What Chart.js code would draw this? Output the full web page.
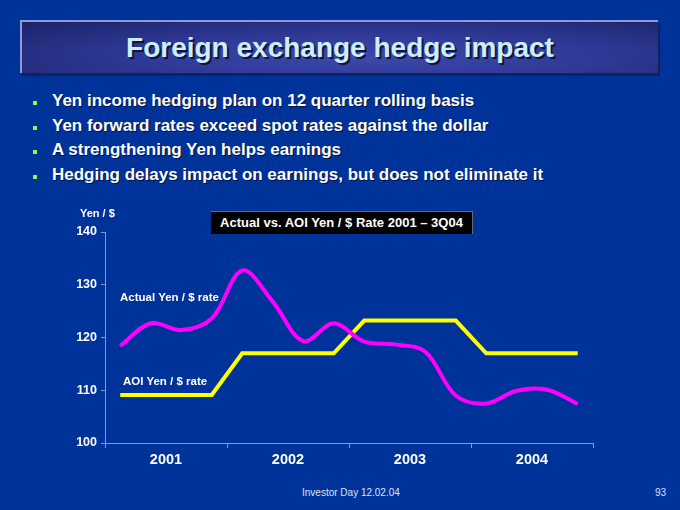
<!DOCTYPE html>
<html>
<head>
<meta charset="utf-8">
<script src="https://cdn.jsdelivr.net/npm/chart.js@4"></script>
<style>
  html, body { margin: 0; padding: 0; }
  body { width: 680px; height: 510px; background: #003399; position: relative; overflow: hidden;
         font-family: "Liberation Sans", Arial, sans-serif; color: #fff; }
  .titlebar { position: absolute; left: 20px; top: 20px; width: 638px; height: 53px; box-sizing: border-box;
              background: radial-gradient(ellipse at 55% 70%, #3c48aa 0%, #2f3a98 45%, #1c2368 100%);
              border-top: 2px solid #8e9ad8; border-left: 2px solid #8e9ad8;
              box-shadow: 2px 3px 0 #14205e; }
  .titlebar h1 { margin: 0; font-size: 28px; font-weight: bold; color: #cdeeff; text-align: center;
                 line-height: 52px; text-shadow: 2px 2px 0 #10143a; }
  ul { position: absolute; left: 0; top: 89px; margin: 0; padding: 0; list-style: none; }
  li { position: relative; padding-left: 52px; height: 24.7px; line-height: 24px; font-size: 17px;
       font-weight: bold; text-shadow: 1px 1px 0 #001244; white-space: nowrap; }
  li::before { content: ""; position: absolute; left: 33px; top: 12px; width: 4px; height: 4px; background: #9cf24a; }
  #chartBox { position: absolute; left: 0; top: 195px; width: 680px; height: 285px; }
  .lbl { position: absolute; font-weight: bold; white-space: nowrap; }
  .ctitle { position: absolute; left: 211px; top: 211px; width: 262px; height: 23px; box-sizing: border-box;
            background: #000; border-top: 1px solid #6a6a6a; border-right: 1px solid #6a6a6a;
            font-size: 13px; font-weight: bold; text-align: center; line-height: 22px; }
  .foot { position: absolute; top: 487px; font-family: "Liberation Sans", Arial, sans-serif;
          font-size: 10px; color: #dde3f5; }
</style>
</head>
<body>
<div class="titlebar"><h1>Foreign exchange hedge impact</h1></div>
<ul>
  <li>Yen income hedging plan on 12 quarter rolling basis</li>
  <li>Yen forward rates exceed spot rates against the dollar</li>
  <li>A strengthening Yen helps earnings</li>
  <li>Hedging delays impact on earnings, but does not eliminate it</li>
</ul>

<div id="chartBox"><canvas id="chart"></canvas></div>
<div class="lbl" style="left:80px; top:207px; font-size:11px;">Yen / $</div>
<div class="ctitle">Actual vs. AOI Yen / $ Rate 2001 – 3Q04</div>
<div class="lbl" style="left:120px; top:291px; font-size:11.5px;">Actual Yen / $ rate</div>
<div class="lbl" style="left:123px; top:375px; font-size:11.5px;">AOI Yen / $ rate</div>

<div class="foot" style="left:302px;">Investor Day 12.02.04</div>
<div class="foot" style="left:655px;">93</div>

<script>
// Данные графика
var years = ['2001', '2002', '2003', '2004'];
var quarters = ['1Q01', '2Q01', '3Q01', '4Q01', '1Q02', '2Q02', '3Q02', '4Q02',
                '1Q03', '2Q03', '3Q03', '4Q03', '1Q04', '2Q04', '3Q04', '4Q04'];
var actualRate = [118.4, 122.7, 121.4, 123.6, 132.7, 126.8, 119.3, 122.7,
                  119.2, 118.7, 117.3, 109.0, 107.5, 109.9, 110.1, 107.4];
var aoiRate = [109.1, 109.1, 109.1, 109.1, 117.0, 117.0, 117.0, 117.0,
               123.2, 123.2, 123.2, 123.2, 117.0, 117.0, 117.0, 117.0];
var yTicks = [100, 110, 120, 130, 140];

var axisColor = '#8796c8';

function points(values) {
    // каждая точка в середине своего квартала
    return values.map(function (v, i) { return { x: i + 0.5, y: v }; });
}

var ctx = document.getElementById('chart').getContext('2d');
var chart = new Chart(ctx, {
    type: 'line',
    data: {
        datasets: [{
            label: 'Actual Yen / $ rate',
            data: points(actualRate),
            borderColor: '#ff00ff',
            borderWidth: 4,
            tension: 0.35,
            pointRadius: 0
        }, {
            label: 'AOI Yen / $ rate',
            data: points(aoiRate),
            borderColor: '#ffff00',
            borderWidth: 4,
            tension: 0,
            pointRadius: 0
        }]
    },
    options: {
        responsive: true,
        maintainAspectRatio: false,
        animation: false,
        layout: { padding: { top: 37, right: 87, left: 0, bottom: 0 } },
        plugins: { legend: { display: false }, tooltip: { enabled: false } },
        scales: {
            x: {
                type: 'linear',
                min: 0,
                max: quarters.length,
                afterBuildTicks: function (scale) {
                    var t = [];
                    for (var v = 0; v <= quarters.length; v += 2) t.push({ value: v });
                    scale.ticks = t;
                },
                afterFit: function (scale) { scale.height = 37; },
                border: { color: axisColor, width: 1 },
                grid: {
                    drawOnChartArea: false,
                    tickLength: 5,
                    color: function (c) {
                        return c.tick && c.tick.value % 4 === 0 ? axisColor : 'rgba(0,0,0,0)';
                    }
                },
                ticks: {
                    autoSkip: false,
                    maxRotation: 0,
                    padding: 3,
                    color: '#ffffff',
                    font: { family: 'Liberation Sans', size: 14.5, weight: 'bold' },
                    callback: function (v) { return v % 4 === 2 ? years[(v - 2) / 4] : ''; }
                }
            },
            y: {
                min: 100,
                max: 140,
                afterBuildTicks: function (scale) {
                    scale.ticks = yTicks.map(function (v) { return { value: v }; });
                },
                afterFit: function (scale) { scale.width = 105; },
                border: { color: axisColor, width: 1 },
                grid: { drawOnChartArea: false, tickLength: 4, color: axisColor },
                ticks: {
                    padding: 4,
                    color: '#ffffff',
                    font: { family: 'Liberation Sans', size: 12.5, weight: 'bold' }
                }
            }
        }
    }
});
</script>
</body>
</html>
